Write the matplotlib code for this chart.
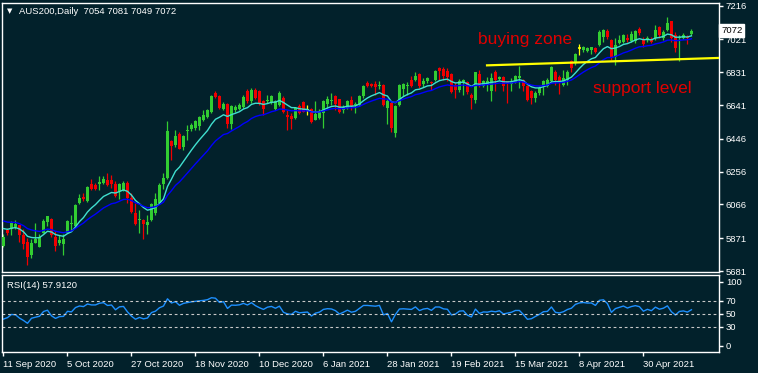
import numpy as np
import pandas as pd
import matplotlib
matplotlib.use('Agg')
import matplotlib.pyplot as plt

plt.rcParams['font.family'] = ['Liberation Sans', 'DejaVu Sans']

# daily candles, AUS200, 11 Sep 2020 .. mid May 2021
open_ = [5825, 5916, 5922, 5935, 5945, 5890, 5849, 5772, 5845, 5820,
         5903, 5964, 5985, 5880, 5841, 5835, 5903, 5953, 5941, 6072,
         6107, 6085, 6182, 6176, 6187, 6191, 6210, 6205, 6187, 6143,
         6149, 6191, 6105, 6014, 5976, 5974, 5945, 5976, 6018, 6076,
         6182, 6220, 6431, 6412, 6476, 6399, 6490, 6505, 6509, 6522,
         6553, 6572, 6599, 6711, 6691, 6618, 6647, 6533, 6614, 6618,
         6630, 6720, 6662, 6726, 6720, 6662, 6662, 6653, 6618, 6643,
         6682, 6581, 6576, 6566, 6633, 6659, 6610, 6618, 6557, 6566,
         6595, 6649, 6662, 6691, 6676, 6614, 6624, 6668, 6643, 6643,
         6691, 6768, 6762, 6764, 6749, 6758, 6624, 6653, 6480, 6643,
         6734, 6753, 6787, 6787, 6822, 6762, 6778, 6774, 6787, 6855,
         6851, 6839, 6820, 6758, 6730, 6774, 6774, 6697, 6672, 6820,
         6749, 6763, 6720, 6835, 6793, 6806, 6778, 6763, 6774, 6797,
         6787, 6754, 6720, 6682, 6711, 6749, 6749, 6782, 6835, 6806,
         6755, 6787, 6897, 6884, 6970, 6960, 6955, 6957, 6974, 6989,
         7037, 7072, 7018, 6922, 6999, 7008, 7028, 7012, 7012, 7082,
         7018, 7018, 7024, 7028, 7095, 7028, 7076, 7128, 7047, 7028,
         7028, 7037, 7054]
high = [5893, 5932, 5970, 5976, 5950, 5922, 5874, 5864, 5961, 5893,
        5980, 6002, 5989, 5912, 5887, 5893, 5976, 6008, 6066, 6124,
        6130, 6172, 6214, 6190, 6233, 6229, 6249, 6239, 6201, 6191,
        6201, 6201, 6134, 6072, 6037, 5980, 6003, 6076, 6130, 6191,
        6249, 6547, 6441, 6495, 6484, 6468, 6528, 6537, 6557, 6580,
        6610, 6616, 6701, 6720, 6697, 6660, 6653, 6641, 6643, 6655,
        6697, 6735, 6740, 6741, 6726, 6668, 6701, 6701, 6668, 6720,
        6695, 6614, 6595, 6630, 6645, 6666, 6641, 6624, 6662, 6620,
        6670, 6695, 6711, 6701, 6678, 6641, 6670, 6695, 6660, 6701,
        6758, 6783, 6770, 6778, 6783, 6764, 6676, 6660, 6639, 6764,
        6770, 6772, 6810, 6835, 6826, 6800, 6801, 6783, 6845, 6864,
        6864, 6855, 6826, 6768, 6793, 6793, 6780, 6711, 6835, 6845,
        6787, 6806, 6826, 6845, 6810, 6812, 6783, 6797, 6814, 6870,
        6793, 6760, 6730, 6720, 6749, 6787, 6797, 6870, 6845, 6814,
        6845, 6845, 6903, 6942, 6993, 6985, 6980, 6980, 6980, 7076,
        7082, 7080, 7025, 7028, 7047, 7052, 7051, 7070, 7076, 7095,
        7037, 7043, 7035, 7105, 7101, 7076, 7153, 7130, 7063, 7047,
        7057, 7047, 7081]
low = [5820, 5887, 5887, 5926, 5849, 5806, 5714, 5756, 5841, 5818,
       5899, 5941, 5880, 5797, 5830, 5772, 5899, 5912, 5937, 6066,
       6085, 6080, 6149, 6150, 6149, 6182, 6172, 6162, 6111, 6095,
       6143, 6076, 6018, 5945, 5903, 5868, 5893, 5970, 6008, 6072,
       6153, 6214, 6322, 6399, 6385, 6379, 6441, 6489, 6499, 6495,
       6547, 6568, 6595, 6680, 6618, 6610, 6509, 6505, 6603, 6610,
       6626, 6653, 6656, 6676, 6641, 6585, 6653, 6647, 6610, 6638,
       6597, 6499, 6503, 6560, 6591, 6600, 6585, 6535, 6553, 6560,
       6509, 6624, 6643, 6614, 6595, 6595, 6620, 6614, 6595, 6637,
       6685, 6745, 6745, 6701, 6734, 6637, 6533, 6483, 6457, 6637,
       6691, 6701, 6745, 6780, 6740, 6745, 6770, 6730, 6781, 6787,
       6787, 6782, 6711, 6685, 6716, 6701, 6705, 6620, 6656, 6745,
       6743, 6724, 6662, 6724, 6789, 6720, 6653, 6724, 6768, 6740,
       6724, 6666, 6650, 6660, 6700, 6701, 6745, 6776, 6755, 6705,
       6753, 6755, 6835, 6874, 6928, 6951, 6950, 6936, 6941, 6985,
       7008, 7025, 6903, 6874, 6995, 7003, 7008, 7005, 7003, 7047,
       6980, 7008, 6999, 7020, 7028, 7018, 7070, 7008, 6951, 6897,
       7025, 6993, 7049]
close = [5880, 5903, 5957, 5951, 5887, 5835, 5764, 5845, 5864, 5880,
         5970, 5999, 5887, 5825, 5860, 5864, 5968, 5957, 6062, 6105,
         6095, 6168, 6153, 6153, 6199, 6214, 6176, 6187, 6118, 6182,
         6191, 6105, 6022, 5951, 5983, 5951, 5964, 6066, 6095, 6176,
         6220, 6489, 6407, 6464, 6388, 6464, 6497, 6528, 6551, 6570,
         6586, 6614, 6695, 6688, 6624, 6649, 6533, 6633, 6630, 6643,
         6688, 6662, 6730, 6682, 6647, 6618, 6672, 6691, 6662, 6711,
         6604, 6572, 6562, 6624, 6595, 6604, 6610, 6541, 6591, 6609,
         6662, 6676, 6672, 6649, 6599, 6628, 6662, 6633, 6647, 6695,
         6753, 6753, 6749, 6745, 6758, 6643, 6662, 6509, 6633, 6758,
         6764, 6758, 6753, 6810, 6749, 6783, 6797, 6766, 6839, 6839,
         6812, 6806, 6716, 6730, 6782, 6787, 6716, 6685, 6832, 6749,
         6782, 6778, 6797, 6787, 6806, 6754, 6768, 6782, 6812, 6812,
         6754, 6672, 6680, 6711, 6741, 6782, 6787, 6864, 6787, 6778,
         6797, 6835, 6858, 6936, 6970, 6980, 6974, 6976, 6951, 7062,
         7076, 7035, 6913, 6989, 7018, 7047, 7018, 7050, 7070, 7057,
         6993, 7028, 7008, 7076, 7047, 7066, 7114, 7028, 6970, 7037,
         7047, 7028, 7072]

date_labels = ['11 Sep 2020', '5 Oct 2020', '27 Oct 2020', '18 Nov 2020',
               '10 Dec 2020', '6 Jan 2021', '28 Jan 2021', '19 Feb 2021',
               '15 Mar 2021', '8 Apr 2021', '30 Apr 2021']
date_bars = [0, 16, 32, 48, 64, 80, 96, 112, 128, 144, 160]
price_ticks = [7216, 7021, 6831, 6641, 6446, 6256, 6066, 5871, 5681]
rsi_ticks = [100, 70, 50, 30, 0]
rsi_levels = [70, 50, 30]
last_price = 7072

# indicator state at the left edge of the chart
ma_fast_start = 5937
ma_slow_start = 5980
rsi_gain_start = 20.0
rsi_loss_start = 28.0

# yellow support trendline (bar, price)
support_bars = [120.9, 179]
support_prices = [6871, 6914]

bg = '#02212b'
green = '#32cd32'
red = '#f00000'

df = pd.DataFrame({'o': open_, 'h': high, 'l': low, 'c': close})
x = np.arange(len(df))

ma_fast = pd.Series([ma_fast_start] + close).ewm(span=10, adjust=False).mean().iloc[1:].to_numpy()
ma_slow = pd.Series([ma_slow_start] + close).ewm(span=20, adjust=False).mean().iloc[1:].to_numpy()

chg = df['c'].diff().fillna(0)
gain = pd.Series([rsi_gain_start] + chg.clip(lower=0).tolist()).ewm(alpha=1/14, adjust=False).mean().iloc[1:].to_numpy()
loss = pd.Series([rsi_loss_start] + (-chg).clip(lower=0).tolist()).ewm(alpha=1/14, adjust=False).mean().iloc[1:].to_numpy()
rsi = 100 - 100 / (1 + gain / loss)

W, H = 758, 373
def fx(px):
    return px / W
def fy(py):
    return 1 - py / H

fig = plt.figure(figsize=(W / 100, H / 100), dpi=100, facecolor=bg)
ax = fig.add_axes([fx(2), fy(272), fx(717), 269 / H])
axr = fig.add_axes([fx(2), fy(352), fx(717), 77 / H], sharex=ax)

for a in (ax, axr):
    a.set_facecolor(bg)
    for s in a.spines.values():
        s.set_color('white')
        s.set_linewidth(1)

# candles
o = df['o'].to_numpy(); c = df['c'].to_numpy()
h = df['h'].to_numpy(); l = df['l'].to_numpy()
up = c > o
dn = c < o
dj = c == o
for mask, col in ((up, green), (dn, red)):
    ax.vlines(x[mask], l[mask], h[mask], color=col, lw=0.9, zorder=2)
    body = np.maximum(np.abs(c[mask] - o[mask]), 4)
    ax.bar(x[mask], body, bottom=np.minimum(o[mask], c[mask]), width=0.75,
           color=col, linewidth=0, zorder=3, antialiased=False)
ax.vlines(x[dj], l[dj], h[dj], color='#ffff00', lw=0.9, zorder=2)
ax.hlines(c[dj], x[dj] - 0.45, x[dj] + 0.45, color='#ffff00', lw=1.2, zorder=3)

ax.plot(x, ma_fast, color='#40e0d0', lw=1, zorder=4)
ax.plot(x, ma_slow, color='#0000ff', lw=1, zorder=4)
ax.plot(support_bars, support_prices, color='#ffff00', lw=1.6, zorder=5)

ax.set_xlim(-0.375, 178.9)
ax.set_ylim(5675.5, 7231.7)
ax.yaxis.tick_right()
ax.set_yticks(price_ticks)
ax.set_yticklabels([str(t) for t in price_ticks])
ax.tick_params(axis='y', colors='white', labelsize=6.8, length=3, width=1, pad=2)
ax.tick_params(axis='x', bottom=False, labelbottom=False)

ax.text(1.003, last_price, str(last_price), transform=ax.get_yaxis_transform(),
        ha='left', va='center', color='black', fontsize=6.8, zorder=10, clip_on=False,
        bbox=dict(boxstyle='square,pad=0.2', fc='white', ec='white'))

fig.text(fx(478), fy(39.2), 'buying zone', color='#e00000', fontsize=12.5, va='center')
fig.text(fx(593), fy(88), 'support level', color='#e00000', fontsize=12.5, va='center')

fig.text(fx(10), fy(11), '\u25bc', color='white', fontsize=5, ha='center', va='center',
         family='DejaVu Sans')
fig.text(fx(19), fy(11), 'AUS200,Daily  7054 7081 7049 7072', color='white',
         fontsize=6.8, va='center')

# RSI panel
axr.plot(x, rsi, color='#1e90ff', lw=1)
for lv in rsi_levels:
    axr.axhline(lv, color='#c8c8c8', lw=0.8, ls=(0, (2.5, 2.5)))
axr.set_ylim(-9.8, 110.5)
axr.yaxis.tick_right()
axr.set_yticks(rsi_ticks)
axr.set_yticklabels([str(t) for t in rsi_ticks])
axr.tick_params(axis='y', colors='white', labelsize=6.8, length=3, width=1, pad=2)
axr.set_xticks(date_bars)
axr.set_xticklabels(date_labels, ha='left')
axr.tick_params(axis='x', colors='white', labelsize=6.8, length=3, width=1, pad=3)
fig.text(fx(7), fy(285), 'RSI(14) 57.9120', color='white', fontsize=6.8, va='center')

fig.savefig('out.png', dpi=100, facecolor=bg)
